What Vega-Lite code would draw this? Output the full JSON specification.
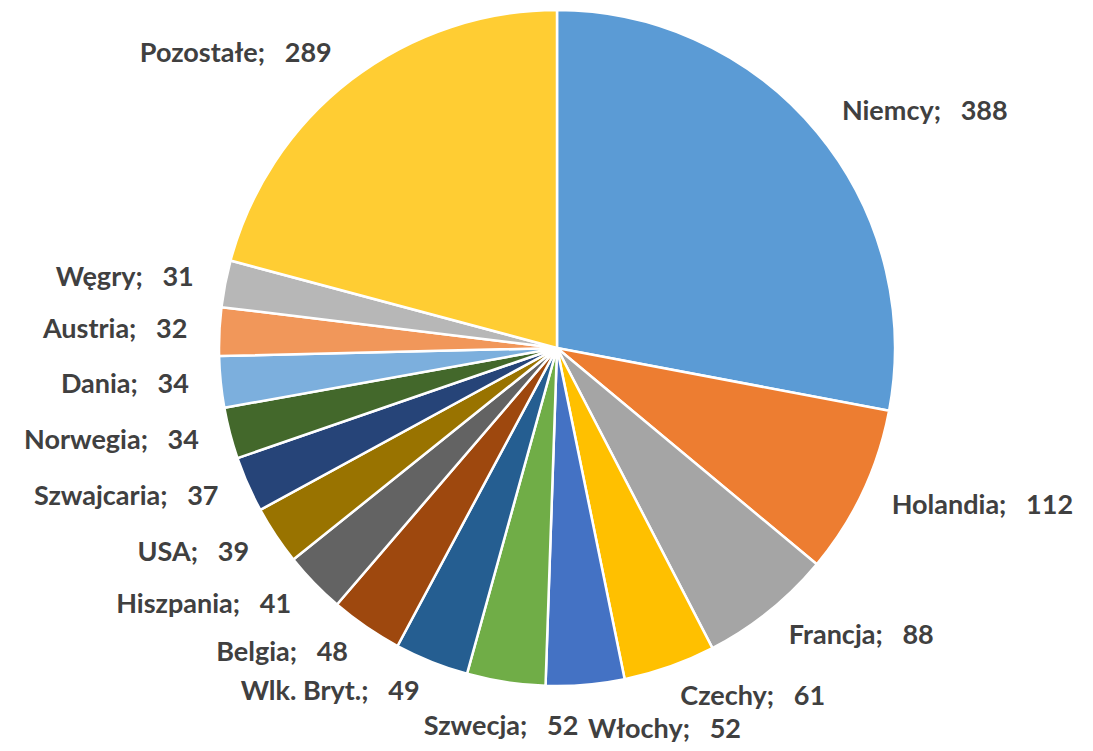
{
  "$schema": "https://vega.github.io/schema/vega-lite/v6.json",
  "width": 1072,
  "height": 696,
  "autosize": {"type": "none"},
  "padding": {"left": 21, "top": 0, "right": 0, "bottom": 55},
  "background": "white",
  "view": {"stroke": null},
  "data": {
    "values": [
      {"kraj": "Niemcy", "wartosc": 388},
      {"kraj": "Holandia", "wartosc": 112},
      {"kraj": "Francja", "wartosc": 88},
      {"kraj": "Czechy", "wartosc": 61},
      {"kraj": "Włochy", "wartosc": 52},
      {"kraj": "Szwecja", "wartosc": 52},
      {"kraj": "Wlk. Bryt.", "wartosc": 49},
      {"kraj": "Belgia", "wartosc": 48},
      {"kraj": "Hiszpania", "wartosc": 41},
      {"kraj": "USA", "wartosc": 39},
      {"kraj": "Szwajcaria", "wartosc": 37},
      {"kraj": "Norwegia", "wartosc": 34},
      {"kraj": "Dania", "wartosc": 34},
      {"kraj": "Austria", "wartosc": 32},
      {"kraj": "Węgry", "wartosc": 31},
      {"kraj": "Pozostałe", "wartosc": 289}
    ]
  },
  "transform": [
    {"window": [{"op": "row_number", "as": "nr"}]},
    {"calculate": "datum.kraj + ';\u00a0\u00a0\u00a0' + datum.wartosc", "as": "etykieta"}
  ],
  "encoding": {
    "theta": {"field": "wartosc", "type": "quantitative", "stack": true},
    "order": {"field": "nr", "type": "quantitative", "sort": "ascending"}
  },
  "layer": [
    {
      "mark": {"type": "arc", "outerRadius": 338, "stroke": "white", "strokeWidth": 2.5},
      "encoding": {
        "color": {
          "field": "kraj",
          "type": "nominal",
          "legend": null,
          "scale": {
            "domain": ["Niemcy", "Holandia", "Francja", "Czechy", "Włochy", "Szwecja", "Wlk. Bryt.", "Belgia", "Hiszpania", "USA", "Szwajcaria", "Norwegia", "Dania", "Austria", "Węgry", "Pozostałe"],
            "range": ["#5B9BD5", "#ED7D31", "#A5A5A5", "#FFC000", "#4472C4", "#70AD47", "#255E91", "#9E480E", "#636363", "#997300", "#264478", "#43682B", "#7CAFDD", "#F1975A", "#B7B7B7", "#FFCD33"]
          }
        }
      }
    },
    {
      "mark": {
        "type": "text",
        "radius": 370,
        "font": "Lato",
        "fontWeight": "bold",
        "fontSize": 27,
        "fill": "#404040",
        "align": {"expr": "indexof(['Niemcy','Holandia','Francja','Czechy','Włochy'], datum.kraj) >= 0 ? 'left' : (datum.kraj === 'Szwecja' ? 'center' : 'right')"},
        "baseline": {"expr": "(datum.kraj === 'Szwecja' || datum.kraj === 'Włochy') ? 'top' : 'middle'"}
      },
      "encoding": {
        "text": {"field": "etykieta", "type": "nominal"}
      }
    }
  ]
}
